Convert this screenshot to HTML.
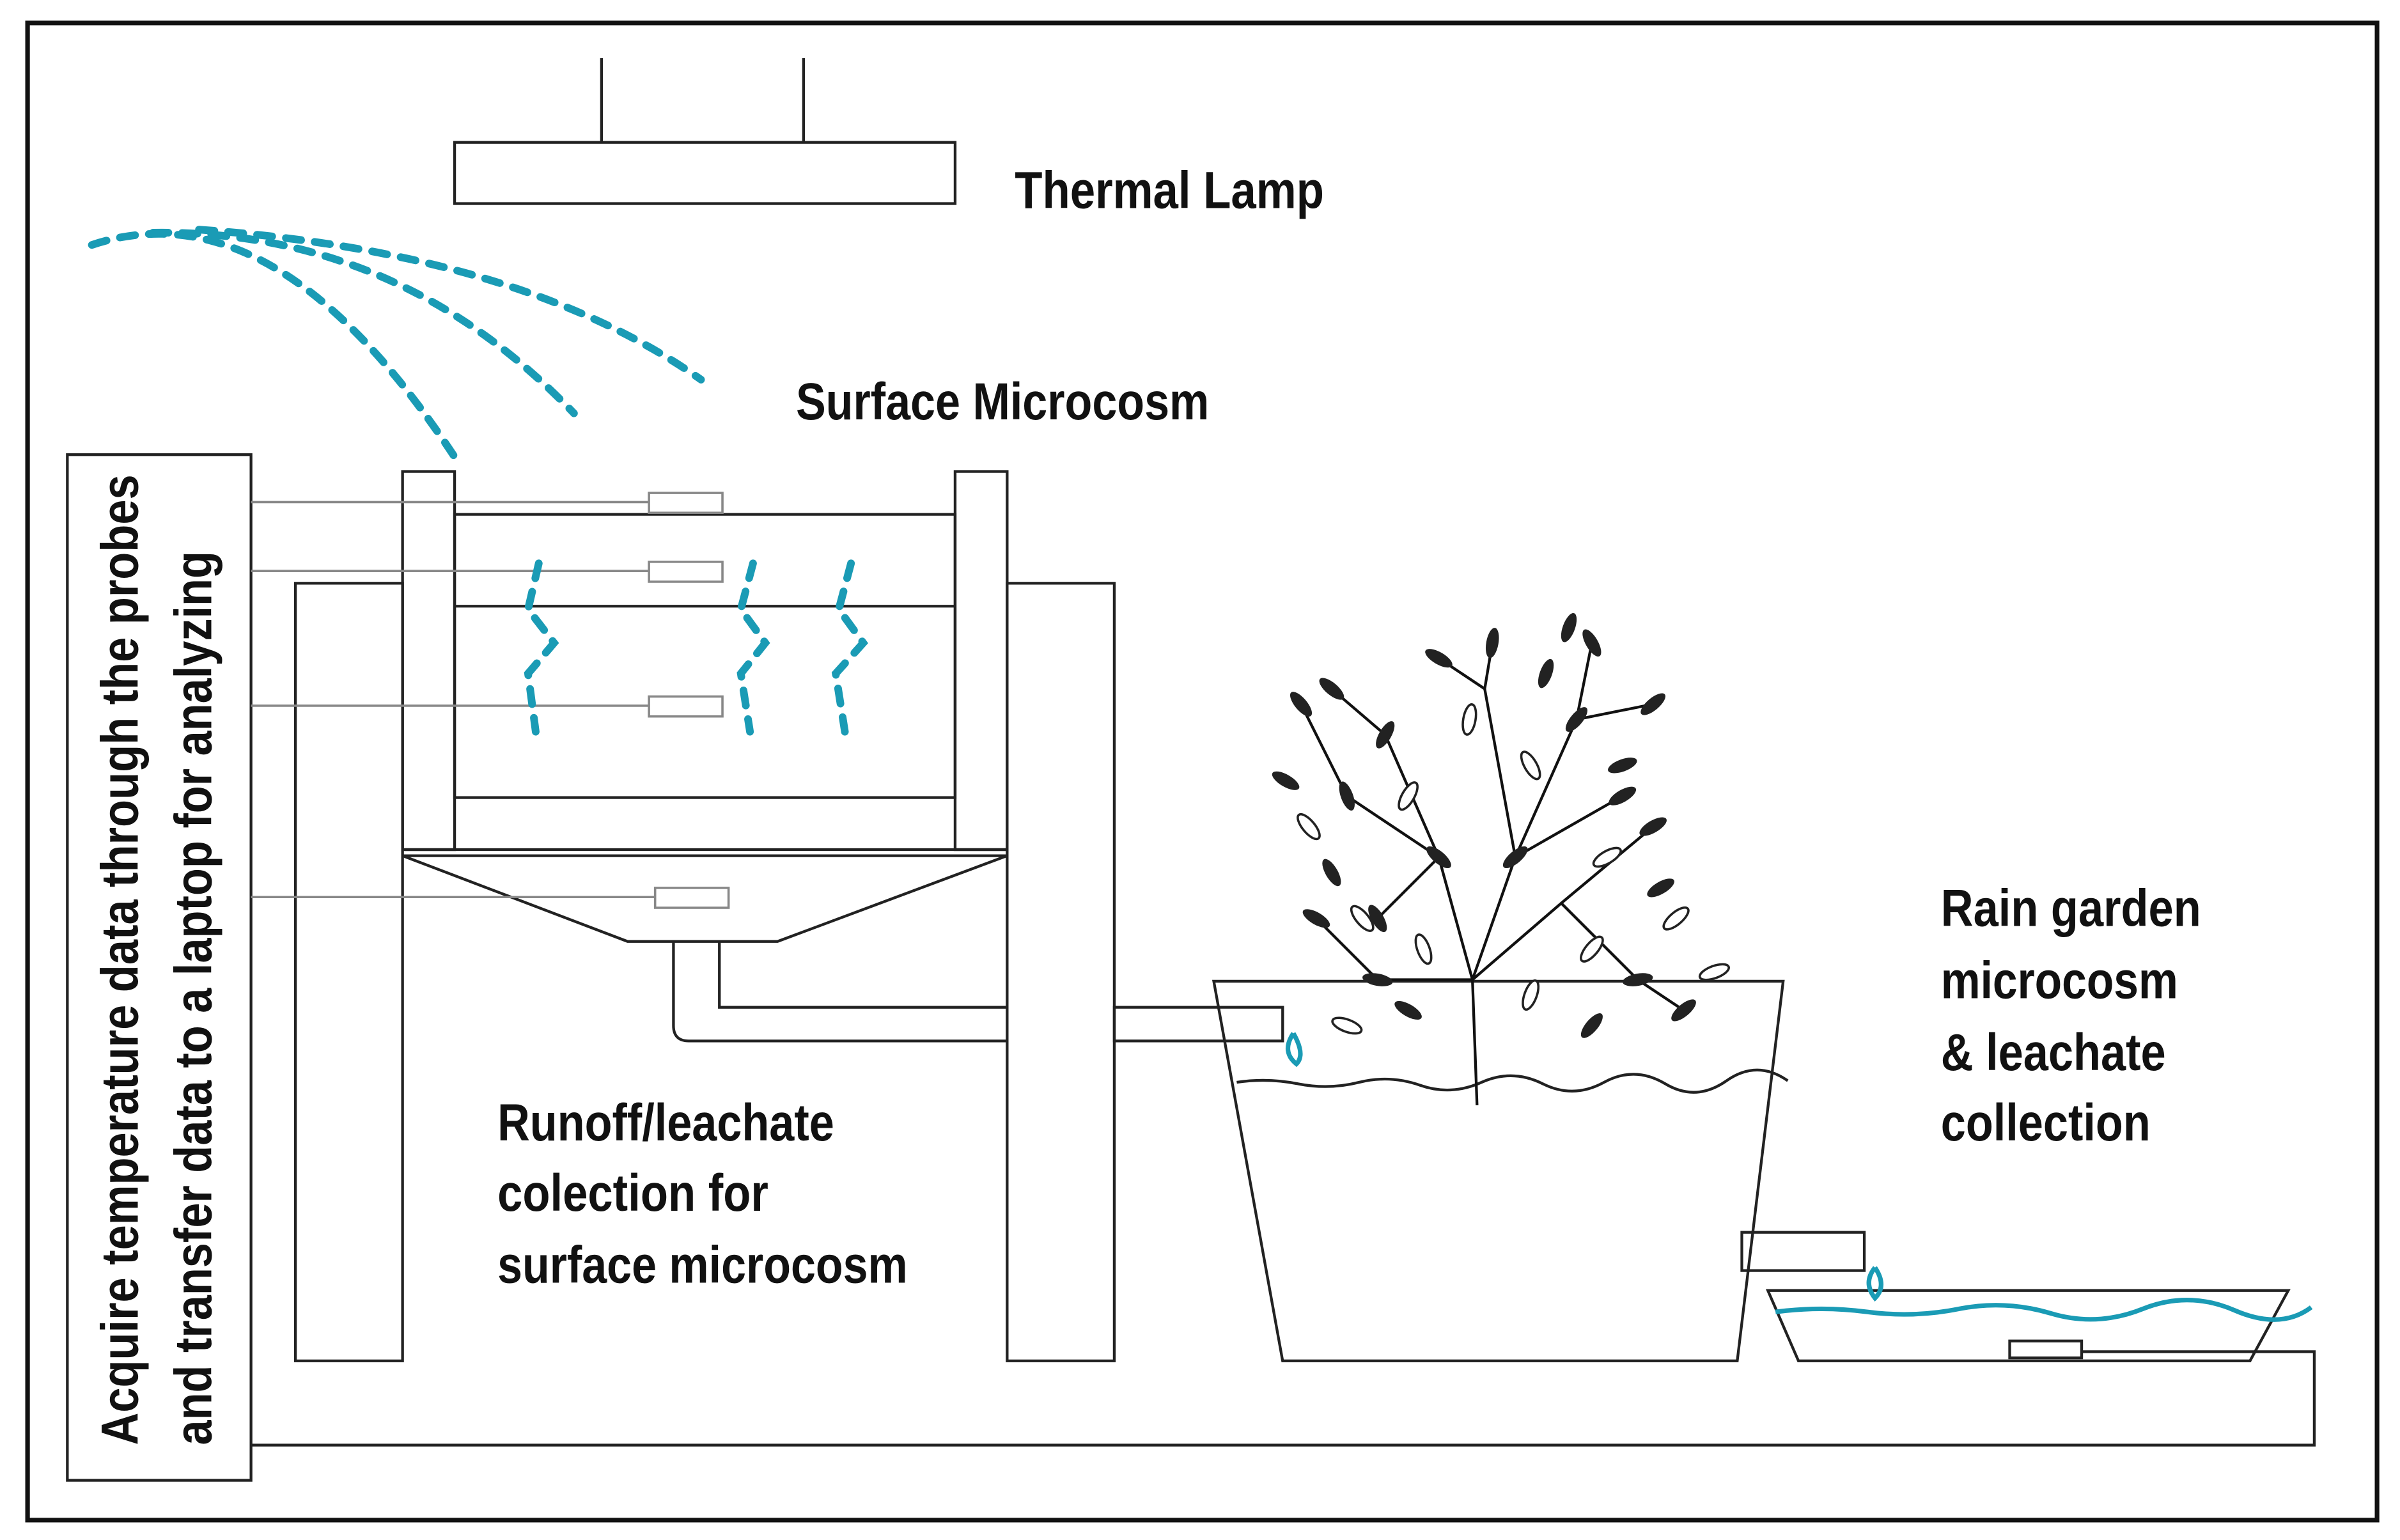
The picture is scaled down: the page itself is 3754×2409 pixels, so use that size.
<!DOCTYPE html>
<html><head><style>html,body{margin:0;padding:0;background:#fff}svg{display:block}</style></head>
<body>
<svg width="3754" height="2409" viewBox="0 0 1568 1006" preserveAspectRatio="none" xmlns="http://www.w3.org/2000/svg">
<rect x="0" y="0" width="1568" height="1006" fill="#fff"/>
<rect x="18" y="15" width="1535" height="978" fill="none" stroke="#111" stroke-width="3"/>
<g fill="none" stroke="#222" stroke-width="1.8">
<line x1="393" y1="38" x2="393" y2="93"/><line x1="525" y1="38" x2="525" y2="93"/>
<rect x="297" y="93" width="327" height="40"/>
<rect x="44" y="297" width="120" height="670"/>
<rect x="193" y="381" width="70" height="508"/>
<rect x="658" y="381" width="70" height="508"/>
<rect x="263" y="308" width="34" height="247"/>
<rect x="624" y="308" width="34" height="247"/>
<rect x="297" y="336" width="327" height="185"/>
<line x1="297" y1="396" x2="624" y2="396"/>
<line x1="263" y1="555" x2="658" y2="555"/>
<line x1="263" y1="559" x2="658" y2="559"/>
<polyline points="263,559 410,615 508,615 658,559"/>
<path d="M440,615 V670 Q440,680 450,680 H658 M470,615 V658 H658"/>
<rect x="728" y="658" width="110" height="22"/>
<polygon points="793,641 1165,641 1135,889 838,889"/>
<path d="M808,707 q20,-3 40,1 t40,-1 t40,2 t40,-2 t40,1 t40,-1 t40,1 t40,-2 t40,0"/>
<rect x="1138" y="805" width="80" height="25"/>
<polygon points="1155,843 1495,843 1470,889 1175,889"/>
<rect x="1313" y="876" width="47" height="11"/>
<polyline points="1360,883 1512,883 1512,944 164,944"/>
</g>
<g stroke="#888" stroke-width="1.5" fill="#fff">
<line x1="164" y1="328" x2="424" y2="328"/><rect x="424" y="322" width="48" height="13"/>
<line x1="164" y1="373" x2="424" y2="373"/><rect x="424" y="367" width="48" height="13"/>
<line x1="164" y1="461" x2="424" y2="461"/><rect x="424" y="455" width="48" height="13"/>
<line x1="164" y1="586" x2="428" y2="586"/><rect x="428" y="580" width="48" height="13"/>
</g>
<g fill="none" stroke="#1a9bb5" stroke-width="5" stroke-dasharray="10 9" stroke-linecap="round">
<path d="M60,160 Q180,120 298,300"/>
<path d="M100,152 Q260,150 375,270"/>
<path d="M130,150 Q340,165 458,248"/>
<path d="M352,368 L345,398 L362,420 L345,440 L350,478"/>
<path d="M492,368 L484,398 L500,420 L484,440 L490,478"/>
<path d="M556,368 L548,398 L564,420 L546,440 L552,478"/>
</g>
<g fill="none" stroke="#1a9bb5" stroke-width="3">
<path d="M845,675 q-8,12 2,20 q6,-6 -2,-20"/>
<path d="M1225,828 q-8,10 0,20 q8,-8 0,-20"/>
<path d="M1160,857 q30,-4 60,0 t60,-2 t60,3 t60,-3 t60,1 t50,-2"/>
</g>
<g stroke="#111" fill="none" stroke-width="1.8">
<path d="M965,722 L962,640 L940,560 L905,480 M962,640 L990,560 L1030,470 L1040,420 M962,640 L1020,590 L1080,540 M940,560 L880,520 L850,460 M990,560 L970,450 L975,420 M962,640 L900,640 L860,600 M1020,590 L1070,640 L1100,660 M940,560 L900,600 M990,560 L1060,520 M970,450 L940,430 M1030,470 L1080,460 M905,480 L870,450"/>
</g>
<g fill="#222" id="lv">
<ellipse cx="905" cy="480" rx="4" ry="10" transform="rotate(30 905 480)"/>
<ellipse cx="1040" cy="420" rx="4" ry="10" transform="rotate(-30 1040 420)"/>
<ellipse cx="1080" cy="540" rx="4" ry="10" transform="rotate(60 1080 540)"/>
<ellipse cx="850" cy="460" rx="4" ry="10" transform="rotate(-40 850 460)"/>
<ellipse cx="975" cy="420" rx="4" ry="10" transform="rotate(10 975 420)"/>
<ellipse cx="860" cy="600" rx="4" ry="10" transform="rotate(-60 860 600)"/>
<ellipse cx="1100" cy="660" rx="4" ry="10" transform="rotate(50 1100 660)"/>
<ellipse cx="880" cy="520" rx="4" ry="10" transform="rotate(-20 880 520)"/>
<ellipse cx="1030" cy="470" rx="4" ry="10" transform="rotate(40 1030 470)"/>
<ellipse cx="1060" cy="500" rx="4" ry="10" transform="rotate(70 1060 500)"/>
<ellipse cx="900" cy="640" rx="4" ry="10" transform="rotate(-80 900 640)"/>
<ellipse cx="1070" cy="640" rx="4" ry="10" transform="rotate(80 1070 640)"/>
<ellipse cx="940" cy="560" rx="4" ry="10" transform="rotate(-50 940 560)"/>
<ellipse cx="990" cy="560" rx="4" ry="10" transform="rotate(50 990 560)"/>
<ellipse cx="1010" cy="440" rx="4" ry="10" transform="rotate(20 1010 440)"/>
<ellipse cx="840" cy="510" rx="4" ry="10" transform="rotate(-60 840 510)"/>
<ellipse cx="1085" cy="580" rx="4" ry="10" transform="rotate(60 1085 580)"/>
<ellipse cx="870" cy="570" rx="4" ry="10" transform="rotate(-30 870 570)"/>
<ellipse cx="940" cy="430" rx="4" ry="10" transform="rotate(-60 940 430)"/>
<ellipse cx="870" cy="450" rx="4" ry="10" transform="rotate(-50 870 450)"/>
<ellipse cx="1080" cy="460" rx="4" ry="10" transform="rotate(50 1080 460)"/>
<ellipse cx="900" cy="600" rx="4" ry="10" transform="rotate(-30 900 600)"/>
<ellipse cx="1060" cy="520" rx="4" ry="10" transform="rotate(60 1060 520)"/>
<ellipse cx="1025" cy="410" rx="4" ry="10" transform="rotate(20 1025 410)"/>
<ellipse cx="920" cy="660" rx="4" ry="10" transform="rotate(-60 920 660)"/>
<ellipse cx="1040" cy="670" rx="4" ry="10" transform="rotate(40 1040 670)"/>
</g>
<g fill="#fff" stroke="#222" stroke-width="1.5">
<ellipse cx="920" cy="520" rx="4" ry="10" transform="rotate(30 920 520)"/>
<ellipse cx="1000" cy="500" rx="4" ry="10" transform="rotate(-30 1000 500)"/>
<ellipse cx="1050" cy="560" rx="4" ry="10" transform="rotate(60 1050 560)"/>
<ellipse cx="890" cy="600" rx="4" ry="10" transform="rotate(-40 890 600)"/>
<ellipse cx="1040" cy="620" rx="4" ry="10" transform="rotate(40 1040 620)"/>
<ellipse cx="960" cy="470" rx="4" ry="10" transform="rotate(10 960 470)"/>
<ellipse cx="1120" cy="635" rx="4" ry="10" transform="rotate(70 1120 635)"/>
<ellipse cx="880" cy="670" rx="4" ry="10" transform="rotate(-70 880 670)"/>
<ellipse cx="855" cy="540" rx="4" ry="10" transform="rotate(-40 855 540)"/>
<ellipse cx="1095" cy="600" rx="4" ry="10" transform="rotate(50 1095 600)"/>
<ellipse cx="1000" cy="650" rx="4" ry="10" transform="rotate(20 1000 650)"/>
<ellipse cx="930" cy="620" rx="4" ry="10" transform="rotate(-20 930 620)"/>
</g>
<g font-family="'Liberation Sans',sans-serif" font-weight="bold" font-size="34" fill="#111" lengthAdjust="spacingAndGlyphs">
<text x="663" y="136" textLength="202" lengthAdjust="spacingAndGlyphs">Thermal Lamp</text>
<text x="520" y="274" textLength="270" lengthAdjust="spacingAndGlyphs">Surface Microcosm</text>
<text x="1268" y="605" textLength="170" lengthAdjust="spacingAndGlyphs">Rain garden</text>
<text x="1268" y="652" textLength="155" lengthAdjust="spacingAndGlyphs">microcosm</text>
<text x="1268" y="699" textLength="147" lengthAdjust="spacingAndGlyphs">&amp; leachate</text>
<text x="1268" y="745" textLength="137" lengthAdjust="spacingAndGlyphs">collection</text>
<text x="325" y="745" textLength="220" lengthAdjust="spacingAndGlyphs">Runoff/leachate</text>
<text x="325" y="791" textLength="177" lengthAdjust="spacingAndGlyphs">colection for</text>
<text x="325" y="838" textLength="268" lengthAdjust="spacingAndGlyphs">surface microcosm</text>
<text transform="translate(90,944) rotate(-90)" textLength="634" lengthAdjust="spacingAndGlyphs">Acquire temperature data through the probes</text>
<text transform="translate(138,944) rotate(-90)" textLength="584" lengthAdjust="spacingAndGlyphs">and transfer data to a laptop for analyzing</text>
</g>
</svg>
</body></html>
